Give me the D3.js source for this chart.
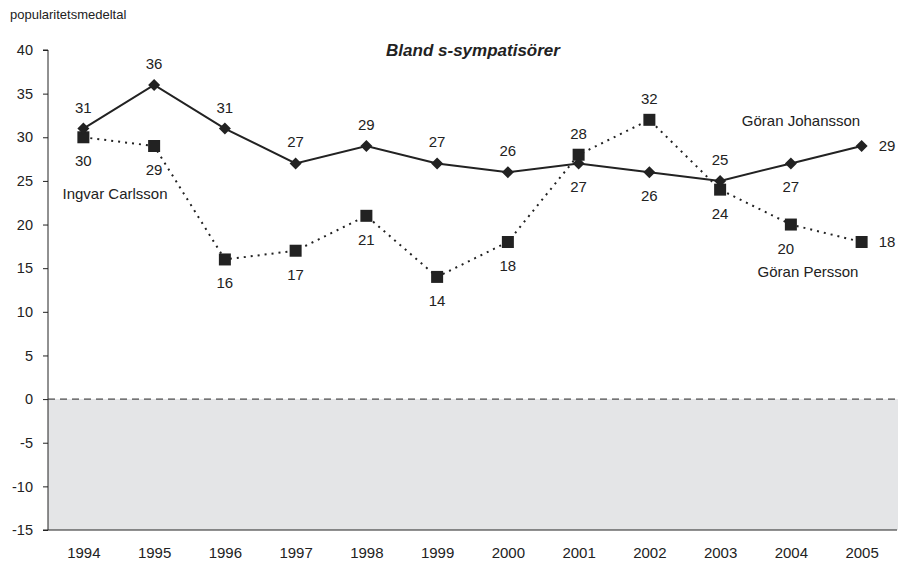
<!DOCTYPE html>
<html><head><meta charset="utf-8">
<script src="https://cdn.jsdelivr.net/npm/d3@7"></script>
<style>body{margin:0;background:#fff}text{font-family:"Liberation Sans",Arial,sans-serif;fill:#222}</style>
</head><body><svg id="c" width="907" height="566"></svg>
<script>
const years = ["1994","1995","1996","1997","1998","1999","2000","2001","2002","2003","2004","2005"];
const johansson = [31,36,31,27,29,27,26,27,26,25,27,29];
const persson = [30,29,16,17,21,14,18,28,32,24,20,18];
// label placement: a = above, b = below, r = right
const jPos = ["a","a","a","a","a","a","a","b","b","a","b","r"];
const pPos = ["b","b","b","b","b","b","b","a","a","b","bl","r"];
const yTicks = [40,35,30,25,20,15,10,5,0,-5,-10,-15];

const svg = d3.select("#c");
const L=48, R=897, T=50, B=530;
const x = d3.scalePoint().domain(years).range([L,R]).padding(0.5);
const y = d3.scaleLinear().domain([-15,40]).range([B,T]);
const ink = "#222";

svg.append("rect").attr("x",L).attr("y",y(0)).attr("width",R+1-L).attr("height",y(-15)-y(0)).attr("fill","#e4e5e7");
svg.append("line").attr("x1",L).attr("x2",R).attr("y1",y(0)).attr("y2",y(0))
  .attr("stroke",ink).attr("stroke-width",1).attr("stroke-dasharray","7,5");

const yAxis = svg.append("g").attr("transform",`translate(${L},0)`)
  .call(d3.axisLeft(y).tickValues(yTicks).tickSize(5).tickPadding(10).tickFormat(d=>String(d)));
yAxis.select(".domain").attr("stroke",ink).attr("d",`M-5,${T}H0V${B}H-5`);
yAxis.selectAll(".tick line").attr("stroke",ink);
yAxis.selectAll(".tick text").attr("font-size",14.5).style("fill",ink);

const xAxis = svg.append("g").attr("transform",`translate(0,${B})`)
  .call(d3.axisBottom(x).tickSize(0).tickPadding(17));
xAxis.select(".domain").attr("stroke",ink).attr("d",`M${L},0H${R}`);
xAxis.selectAll(".tick text").attr("font-size",15).style("fill",ink);

const line = d3.line().x((d,i)=>x(years[i])).y(d=>y(d));
svg.append("path").datum(persson).attr("d",line).attr("fill","none")
  .attr("stroke",ink).attr("stroke-width",2).attr("stroke-dasharray","2,5");
svg.append("path").datum(johansson).attr("d",line).attr("fill","none")
  .attr("stroke",ink).attr("stroke-width",2);

svg.selectAll(".sq").data(persson).join("rect")
  .attr("x",(d,i)=>x(years[i])-6).attr("y",d=>y(d)-6).attr("width",12).attr("height",12).attr("fill",ink);
svg.selectAll(".dm").data(johansson).join("path")
  .attr("d","M0,-6L6,0L0,6L-6,0Z").attr("transform",(d,i)=>`translate(${x(years[i])},${y(d)})`).attr("fill",ink);

function labels(data,pos,cls){
  svg.selectAll("."+cls).data(data).join("text").attr("class",cls)
    .attr("font-size",15)
    .attr("text-anchor",(d,i)=>pos[i]==="r"?"start":"middle")
    .attr("x",(d,i)=>x(years[i]) + (pos[i]==="r"?17:(pos[i]==="bl"?-5:0)))
    .attr("y",(d,i)=>y(d) + (pos[i]==="a"?-16:(pos[i]==="r"?5:29)))
    .text(d=>d);
}
labels(johansson,jPos,"jl");
labels(persson,pPos,"pl");

svg.append("text").attr("x",10).attr("y",19).attr("font-size",13).text("popularitetsmedeltal");
svg.append("text").attr("x",473).attr("y",56).attr("text-anchor","middle").attr("font-size",17)
  .attr("font-weight","bold").attr("font-style","italic").text("Bland s-sympatisörer");
svg.append("text").attr("x",801).attr("y",126).attr("text-anchor","middle").attr("font-size",15).text("Göran Johansson");
svg.append("text").attr("x",115).attr("y",199).attr("text-anchor","middle").attr("font-size",15).text("Ingvar Carlsson");
svg.append("text").attr("x",808).attr("y",277).attr("text-anchor","middle").attr("font-size",15).text("Göran Persson");
</script></body></html>
